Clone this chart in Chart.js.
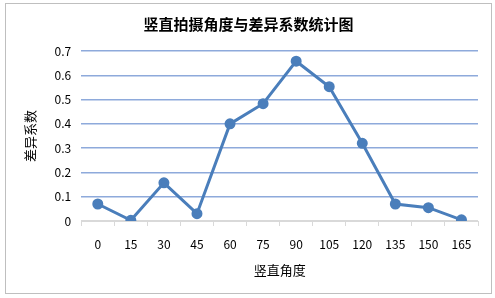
<!DOCTYPE html>
<html>
<head>
<meta charset="utf-8">
<script src="https://cdn.jsdelivr.net/npm/chart.js@4"></script>
<style>
  html, body { margin: 0; padding: 0; background: #fff; }
  #wrap { width: 495px; height: 298px; position: relative; }
</style>
</head>
<body>
<div id="wrap"><canvas id="chart-angle"></canvas></div>
<script>
const angles = ['0', '15', '30', '45', '60', '75', '90', '105', '120', '135', '150', '165'];
const cvValues = [0.07, 0.003, 0.157, 0.03, 0.40, 0.483, 0.658, 0.553, 0.32, 0.07, 0.055, 0.005];

const chartFont = "'Noto Sans CJK SC', 'Noto Sans', sans-serif";

// outer frame like the spreadsheet chart border
const framePlugin = {
    id: 'frame',
    afterDraw(chart) {
        const ctx = chart.ctx;
        ctx.save();
        ctx.strokeStyle = '#bfbfbf';
        ctx.lineWidth = 1;
        ctx.strokeRect(5.5, 3.5, 486, 290);
        ctx.restore();
    }
};

const ctxAngle = document.getElementById('chart-angle');

const chartAngle = new Chart(ctxAngle, {
    type: 'line',
    data: {
        labels: angles,
        datasets: [{
            label: '差异系数',
            data: cvValues,
            borderColor: '#4a7ebb',
            backgroundColor: '#4a7ebb',
            borderWidth: 3,
            pointRadius: 4,
            pointHoverRadius: 4,
            tension: 0
        }]
    },
    options: {
        responsive: true,
        maintainAspectRatio: false,
        animation: false,
        layout: {
            padding: { left: 19, right: 17, top: 8, bottom: 16 }
        },
        plugins: {
            legend: { display: false },
            tooltip: { enabled: false },
            title: {
                display: true,
                text: '竖直拍摄角度与差异系数统计图',
                color: '#000',
                font: { family: chartFont, size: 15, weight: 'bold' },
                padding: { top: 7, bottom: 18 }
            }
        },
        scales: {
            x: {
                offset: true,
                grid: {
                    display: true,
                    offset: true,
                    drawOnChartArea: false,
                    drawTicks: true,
                    tickLength: 5,
                    color: '#d9d9d9'
                },
                border: { display: true, color: '#d9d9d9' },
                ticks: {
                    color: '#000',
                    padding: 11,
                    maxRotation: 0,
                    font: { family: chartFont, size: 12 }
                },
                title: {
                    display: true,
                    text: '竖直角度',
                    color: '#000',
                    font: { family: chartFont, size: 13 },
                    padding: { top: 0 }
                }
            },
            y: {
                min: 0,
                max: 0.7,
                ticks: {
                    stepSize: 0.1,
                    color: '#000',
                    padding: 10,
                    font: { family: chartFont, size: 12 }
                },
                grid: {
                    drawTicks: false,
                    lineWidth: 1.5,
                    color: function(context) {
                        return context.index === 0 ? '#d9d9d9' : '#8eaadb';
                    }
                },
                border: { display: false },
                title: {
                    display: true,
                    text: '差异系数',
                    color: '#000',
                    font: { family: chartFont, size: 13 },
                    padding: { top: 3, bottom: 7 }
                }
            }
        }
    },
    plugins: [framePlugin]
});
</script>
</body>
</html>
